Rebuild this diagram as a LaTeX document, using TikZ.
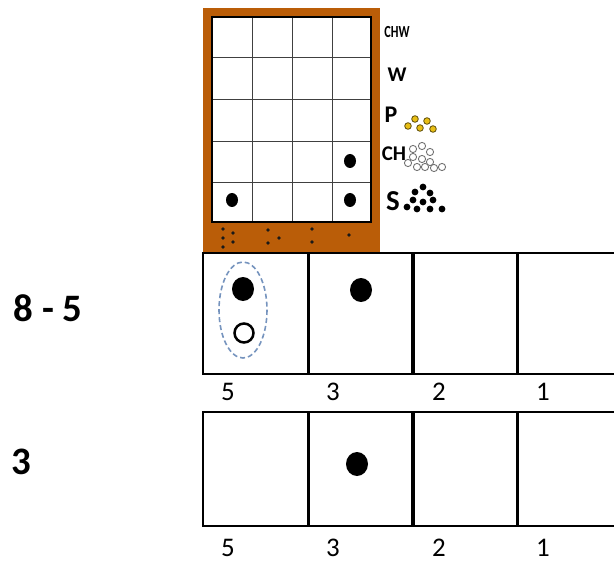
\documentclass[tikz,border=0pt]{standalone}
\usepackage{fontspec}
\setmainfont{Carlito}
\usetikzlibrary{positioning}
\definecolor{frame}{RGB}{186,93,8}
\definecolor{ring}{RGB}{118,148,190}
\definecolor{coin}{RGB}{232,190,20}
\tikzset{
    cell/.style={
        rectangle, draw=black, line width=2bp,
        minimum width=106bp, inner sep=0pt
    },
    num/.style={font=\fontsize{27}{27}\selectfont},
    bignum/.style={font=\fontsize{39}{39}\selectfont\bfseries},
    tag/.style={font=\bfseries, inner sep=0pt},
    bead/.style={fill=black},
    hole/.style={draw=black!55, fill=white, line width=0.9bp},
    gold/.style={draw=black!60!coin, fill=coin, line width=0.8bp},
    crumb/.style={fill=black!90}
}

\begin{document}
\begin{tikzpicture}[x=1bp, y=-1bp]
    \useasboundingbox (0,0) rectangle (614,562);
    \clip (0,0) rectangle (614,562);

    % abacus frame
    \fill[frame] (203,8) rectangle (380,252);
    \fill[white] (212,17) rectangle (371,222);
    \foreach \x in {252,292,332}
        \draw[black!75, line width=0.9bp] (\x,17) -- (\x,222);
    \foreach \y in {57,99,141,182}
        \draw[black!75, line width=0.9bp] (212,\y) -- (371,\y);
    \draw[black, line width=1.4bp] (212,17) rectangle (371,222);
    \fill[bead] (232,200) ellipse (6 and 7);
    \fill[bead] (350,200) ellipse (6 and 7);
    \fill[bead] (350,161) ellipse (6 and 7);

    % dots on the frame
    \foreach \p in {(223,229),(223,238),(223,247),(233,233),(233,242),
                    (268,230),(279,238),(268,243),(312,229),(312,242),(349,235)}
        \fill[crumb] \p circle (1.9);

    % row labels beside the frame
    \node[tag, font=\fontsize{17}{17}\selectfont\bfseries, xscale=0.72] (chw) at (397,32) {CHW};
    \node[tag, font=\fontsize{21}{21}\selectfont\bfseries] (w) at (397,75) {W};
    \node[tag, font=\fontsize{24}{24}\selectfont\bfseries] (p) at (391,115) {P};
    \node[tag, font=\fontsize{21}{21}\selectfont\bfseries] (ch) at (394,154) {CH};
    \node[tag, font=\fontsize{29}{29}\selectfont\bfseries] (s) at (393,201) {S};

    \foreach \p in {(415,119),(427,121),(408,126),(420,128),(433,129)}
        \draw[gold] \p circle (3.3);
    \foreach \p in {(413,149),(422,146),(430,152),(413,157),(422,159),(430,162),
                    (408,163),(417,167),(425,167),(434,168),(442,167)}
        \draw[hole] \p circle (3.6);
    \foreach \p in {(423,187),(415,192),(430,193),(413,200),(423,202),(433,200),
                    (407,207),(417,209),(430,209),(442,209)}
        \fill[bead] \p circle (3.4);

    % first row: 8 - 5
    \node[bignum] (first) at (48,308) {8 - 5};
    \node[cell, minimum height=121bp] (a5) at (256,313.5) {};
    \node[cell, minimum height=121bp] (a3) at (361,313.5) {};
    \node[cell, minimum height=121bp] (a2) at (465,313.5) {};
    \node[cell, minimum height=121bp] (a1) at (570,313.5) {};
    \fill[bead] (243,289) ellipse (11 and 12);
    \draw[black, line width=2.5bp] (244,333) circle (9.5);
    \draw[ring, line width=1.6bp, dash pattern=on 5bp off 3bp] (243,310) ellipse (24 and 48);
    \fill[bead] (361,290) ellipse (11 and 12);
    \node[num] (la5) at (228,392) {5};
    \node[num] (la3) at (333,392) {3};
    \node[num] (la2) at (439,392) {2};
    \node[num] (la1) at (543,392) {1};

    % second row: 3
    \node[bignum] (second) at (21,462) {3};
    \node[cell, minimum height=114bp] (b5) at (256,469) {};
    \node[cell, minimum height=114bp] (b3) at (361,469) {};
    \node[cell, minimum height=114bp] (b2) at (465,469) {};
    \node[cell, minimum height=114bp] (b1) at (570,469) {};
    \fill[bead] (357,464) ellipse (11 and 12);
    \node[num] (lb5) at (228,548) {5};
    \node[num] (lb3) at (333,548) {3};
    \node[num] (lb2) at (439,548) {2};
    \node[num] (lb1) at (543,548) {1};
\end{tikzpicture}
\end{document}
